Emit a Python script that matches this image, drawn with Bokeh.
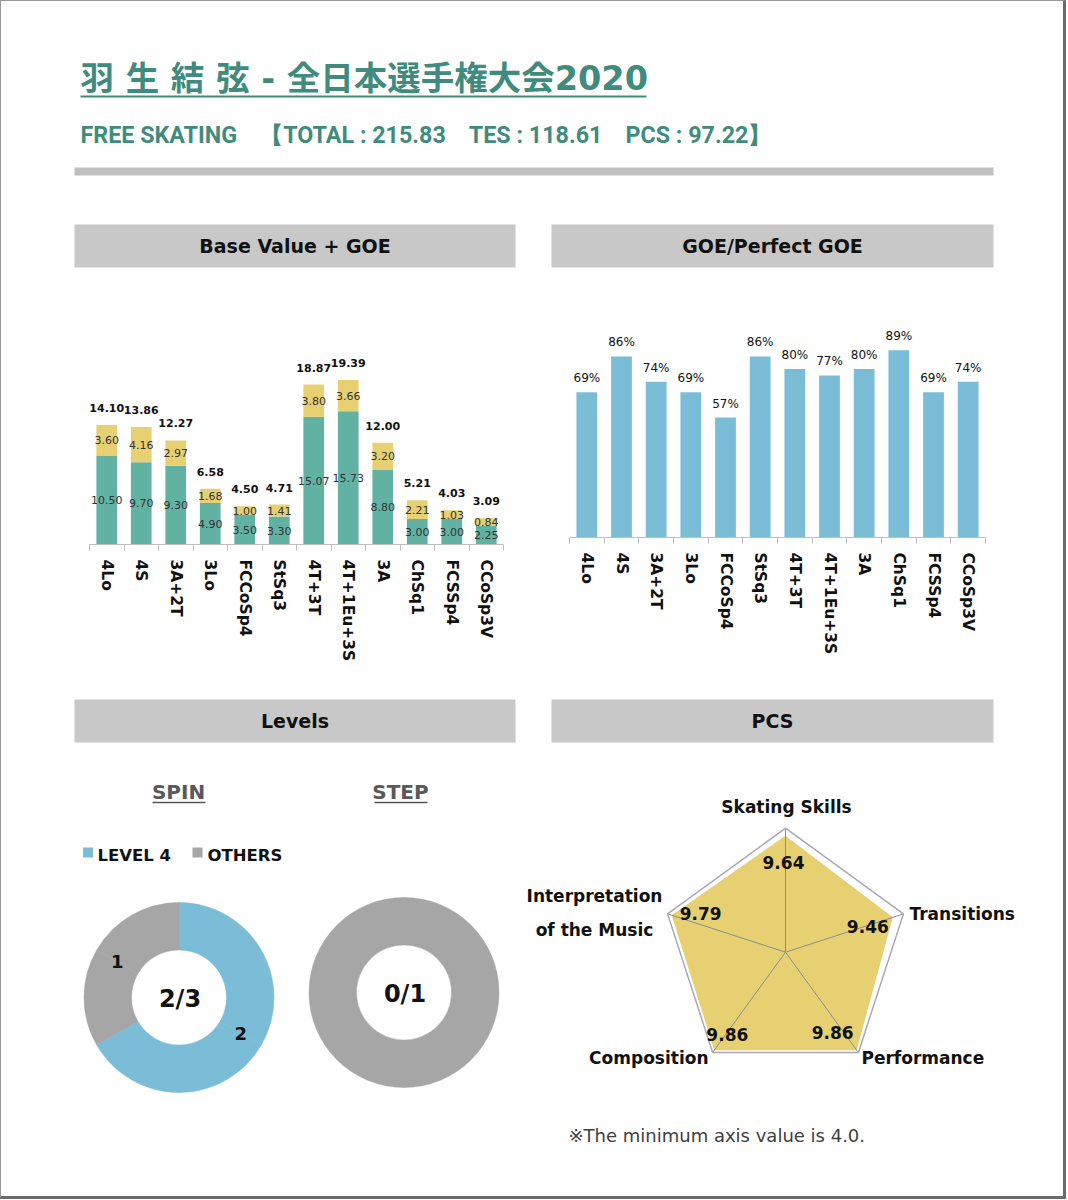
import math
from bokeh.plotting import figure
from bokeh.layouts import column, row
from bokeh.models import Range1d, FixedTicker, ColumnDataSource
from bokeh.core.properties import value
from bokeh.embed import file_html
from bokeh.resources import INLINE

# ---------------- data ----------------
skater = "羽 生 結 弦"
event = "全日本選手権大会2020"
segment_name = "FREE SKATING"
total_score = 215.83
tes_score = 118.61
pcs_score = 97.22

elements = ["4Lo", "4S", "3A+2T", "3Lo", "FCCoSp4", "StSq3", "4T+3T",
            "4T+1Eu+3S", "3A", "ChSq1", "FCSSp4", "CCoSp3V"]
base_value = [10.50, 9.70, 9.30, 4.90, 3.50, 3.30, 15.07, 15.73, 8.80, 3.00, 3.00, 2.25]
goe_value = [3.60, 4.16, 2.97, 1.68, 1.00, 1.41, 3.80, 3.66, 3.20, 2.21, 1.03, 0.84]
goe_pct = [69, 86, 74, 69, 57, 86, 80, 77, 80, 89, 69, 74]

level_names = ["LEVEL 4", "OTHERS"]
spin_levels = [2, 1]
step_levels = [0, 1]

pcs_names = ["Skating Skills", "Transitions", "Performance", "Composition",
             "Interpretation\nof the Music"]
pcs_values = [9.64, 9.46, 9.86, 9.86, 9.79]
pcs_axis_min = 4.0
pcs_axis_max = 10.0

# ---------------- styles ----------------
GREEN = "#3f8c7e"
TEAL = "#62b2a3"
YELLOW = "#e6d072"
BLUE = "#7bbdd7"
DGRAY = "#a6a6a6"
BAND = "#c8c8c8"
AXIS = "#bfbfbf"
FONT = "DejaVu Sans"
BORDER_STYLES = {"border-left": "1px solid #9a9a9a", "border-top": "1px solid #9a9a9a",
                 "border-right": "3px solid #6b6b6b", "border-bottom": "3px solid #6b6b6b"}


def canvas(w, h, invert=True):
    p = figure(width=w, height=h, x_range=Range1d(0, w),
               y_range=Range1d(h, 0) if invert else Range1d(0, h),
               x_axis_location=None, y_axis_location=None, tools="",
               toolbar_location=None, output_backend="svg", min_border=0)
    p.grid.visible = False
    p.outline_line_color = None
    p.background_fill_color = "white"
    p.border_fill_color = "white"
    return p


def band(p, left, right, top, bottom, label):
    p.quad(left=[left], right=[right], top=[top], bottom=[bottom],
           fill_color=BAND, line_color=None)
    p.text(x=[(left + right) / 2], y=[(top + bottom) / 2], text=[label],
           text_font=value(FONT), text_font_style="bold", text_font_size="19px",
           text_color="#111111", text_align="center", text_baseline="middle")


# ---------------- header ----------------
head = canvas(1062, 270)
head.text(x=[79], y=[77], text=[f"{skater} - {event}"],
          text_font=value("DejaVu Sans, Noto Sans CJK JP"), text_font_style="bold",
          text_font_size="33.5px", text_color=GREEN, text_align="left",
          text_baseline="middle")
head.segment(x0=[79], y0=[95], x1=[645], y1=[95], line_color=GREEN, line_width=2)
subtitle = (f"{segment_name}\u3000【TOTAL : {total_score:.2f}\u3000TES : {tes_score:.2f}"
            f"\u3000PCS : {pcs_score:.2f}】")
head.text(x=[79], y=[133], text=[subtitle], text_font=value("Roboto"),
          text_font_style="bold", text_font_size="23.3px", text_color=GREEN,
          text_align="left", text_baseline="middle")
head.quad(left=[73], right=[992], top=[166], bottom=[174], fill_color="#c0c0c0",
          line_color=None)
band(head, 73, 514, 223, 266, "Base Value + GOE")
band(head, 550, 992, 223, 266, "GOE/Perfect GOE")

# ---------------- bar charts ----------------
n = len(elements)
xs = list(range(n))
totals = [round(b + g, 2) for b, g in zip(base_value, goe_value)]
bar_src = ColumnDataSource(dict(
    x=xs, base=base_value, goe=goe_value, total=totals,
    base_mid=[b / 2 for b in base_value],
    goe_mid=[b + g / 2 for b, g in zip(base_value, goe_value)],
    base_lbl=[f"{b:.2f}" for b in base_value],
    goe_lbl=[f"{g:.2f}" for g in goe_value],
    total_lbl=[f"{t:.2f}" for t in totals],
))


def style_cat_axis(p):
    ax = p.xaxis[0]
    ax.ticker = FixedTicker(ticks=xs, minor_ticks=[i - 0.5 for i in range(n + 1)])
    ax.major_label_overrides = {i: e for i, e in enumerate(elements)}
    ax.major_tick_line_color = None
    ax.major_tick_out = 0
    ax.major_tick_in = 0
    ax.minor_tick_line_color = AXIS
    ax.minor_tick_out = 6
    ax.minor_tick_in = 0
    ax.axis_line_color = AXIS
    ax.major_label_orientation = -math.pi / 2
    ax.major_label_standoff = 9
    ax.major_label_text_font = FONT
    ax.major_label_text_font_style = "bold"
    ax.major_label_text_font_size = "15.5px"
    ax.major_label_text_color = "#111111"
    p.grid.visible = False
    p.outline_line_color = None


bar = figure(width=535, height=425, x_range=Range1d(-0.5, 11.5), y_range=Range1d(0, 26.42),
             y_axis_location=None, tools="", toolbar_location=None, output_backend="svg",
             min_border_left=88, min_border_right=33, min_border_top=49,
             min_border_bottom=152)
style_cat_axis(bar)
bar.vbar_stack(["base", "goe"], x="x", width=0.6, fill_color=[TEAL, YELLOW],
               line_color=None, source=bar_src)
bar.text(x="x", y="base_mid", text="base_lbl", source=bar_src, text_font=value(FONT),
         text_font_size="11px", text_color="#333333", text_align="center",
         text_baseline="middle")
bar.text(x="x", y="goe_mid", text="goe_lbl", source=bar_src, text_font=value(FONT),
         text_font_size="11px", text_color="#333333", text_align="center",
         text_baseline="middle")
bar.text(x="x", y="total", text="total_lbl", source=bar_src, text_font=value(FONT),
         text_font_style="bold", text_font_size="11px", text_color="#111111",
         text_align="center", text_baseline="middle", y_offset=-17)

goe_src = ColumnDataSource(dict(x=xs, pct=goe_pct, lbl=[f"{v}%" for v in goe_pct]))
goe = figure(width=527, height=418, x_range=Range1d(-0.5, 11.5), y_range=Range1d(0, 103.1),
             y_axis_location=None, tools="", toolbar_location=None, output_backend="svg",
             min_border_left=33, min_border_right=78, min_border_top=49,
             min_border_bottom=152)
style_cat_axis(goe)
goe.vbar(x="x", top="pct", width=0.6, fill_color=BLUE, line_color=None, source=goe_src)
goe.text(x="x", y="pct", text="lbl", source=goe_src, text_font=value(FONT),
         text_font_size="12px", text_color="#111111", text_align="center",
         text_baseline="middle", y_offset=-14)

# ---------------- band 2 ----------------
band2 = canvas(1062, 53)
band(band2, 73, 514, 3, 46, "Levels")
band(band2, 550, 992, 3, 46, "PCS")

# ---------------- levels ----------------
lev = canvas(515, 447, invert=False)
level_colors = [BLUE, DGRAY]
for cx, ttl in [(177, "SPIN"), (399, "STEP")]:
    lev.text(x=[cx], y=[405], text=[ttl], text_font=value(FONT), text_font_style="bold",
             text_font_size="20px", text_color="#595959", text_align="center",
             text_baseline="middle")
    lev.segment(x0=[cx - 26], y0=[394], x1=[cx + 27], y1=[394], line_color="#595959",
                line_width=1.5)

lev.rect(x=[86.5, 196], y=[344, 344], width=10, height=10, fill_color=level_colors,
         line_color=None)
lev.text(x=[96, 206], y=[341, 341], text=level_names, text_font=value(FONT),
         text_font_style="bold", text_font_size="16.5px", text_color="#111111",
         text_align="left", text_baseline="middle")


def donut(p, cx, cy, counts, show):
    total = sum(counts)
    start = math.pi / 2
    r_in, r_out = 47.5, 95
    for cnt, col, sh in zip(counts, level_colors, show):
        span = 2 * math.pi * cnt / total
        end = start - span
        if cnt > 0:
            half = (start + end) / 2
            for a0, a1 in [(half, start), (end, half)]:
                p.annular_wedge(x=[cx], y=[cy], inner_radius=r_in, outer_radius=r_out,
                                start_angle=a0, end_angle=a1, fill_color=col,
                                line_color=col, line_width=0.5)
        if sh:
            mid = (start + end) / 2
            rm = (r_in + r_out) / 2
            p.text(x=[cx + rm * math.cos(mid)], y=[cy + rm * math.sin(mid)],
                   text=[str(cnt)], text_font=value(FONT), text_font_style="bold",
                   text_font_size="18px", text_color="#111111", text_align="center",
                   text_baseline="middle")
        start = end
    p.text(x=[cx + 1], y=[cy - 1], text=[f"{counts[0]}/{total}"], text_font=value(FONT),
           text_font_style="bold", text_font_size="24px", text_color="#111111",
           text_align="center", text_baseline="middle")


donut(lev, 177.5, 199, spin_levels, [True, True])
donut(lev, 402.5, 204, step_levels, [True, False])

# ---------------- PCS radar ----------------
pcs = canvas(547, 447, invert=False)
cx, cy, R = 269, 244.3, 124
k = len(pcs_values)
ang = [math.pi / 2 - i * 2 * math.pi / k for i in range(k)]
ox = [cx + R * math.cos(a) for a in ang]
oy = [cy + R * math.sin(a) for a in ang]
rad = [(v - pcs_axis_min) / (pcs_axis_max - pcs_axis_min) * R for v in pcs_values]
vx = [cx + r * math.cos(a) for r, a in zip(rad, ang)]
vy = [cy + r * math.sin(a) for r, a in zip(rad, ang)]

pcs.patch(vx, vy, fill_color=YELLOW, line_color=None)
pcs.segment(x0=[cx] * k, y0=[cy] * k, x1=ox, y1=oy, line_color="#8c8c8c", line_width=1)
pcs.line(ox + ox[:1], oy + oy[:1], line_color="#a8a8b8", line_width=1.5)

val_dx = [-2, -25, -24, 13, 29]
val_dy = [27, 9, -18, -16, -2]
pcs.text(x=vx, y=vy, text=[f"{v:.2f}" for v in pcs_values], x_offset=val_dx,
         y_offset=val_dy, text_font=value(FONT), text_font_style="bold",
         text_font_size="17px", text_color="#111111", text_align="center",
         text_baseline="middle")

lbl_x = [270, 393, 345, 192, 78]
lbl_y = [390, 283, 139, 139, 284]
lbl_align = ["center", "left", "left", "right", "center"]
pcs.text(x=lbl_x, y=lbl_y, text=pcs_names, text_align=lbl_align,
         text_font=value(FONT), text_font_style="bold", text_font_size="17px",
         text_color="#111111", text_baseline="middle", text_line_height=1.7)
pcs.text(x=[52], y=[61], text=[f"※The minimum axis value is {pcs_axis_min:.1f}."],
         text_font=value(FONT), text_font_size="18px", text_color="#404040",
         text_align="left", text_baseline="middle")

layout = column(head, row(bar, goe), band2, row(lev, pcs), styles=BORDER_STYLES)

with open("out.html", "w") as f:
    f.write(file_html(layout, INLINE))
